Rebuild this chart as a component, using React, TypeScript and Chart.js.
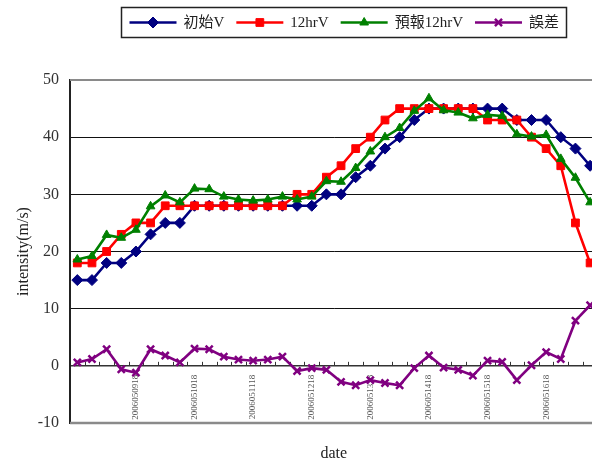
import { useEffect, useRef } from 'react';
import { Chart, registerables } from 'chart.js';
import { drawPoint } from 'chart.js/helpers';

Chart.register(...registerables);

// 6-hourly analysis times
const categories = [
  '2006050818', '2006050900', '2006050906', '2006050912',
  '2006050918', '2006051000', '2006051006', '2006051012',
  '2006051018', '2006051100', '2006051106', '2006051112',
  '2006051118', '2006051200', '2006051206', '2006051212',
  '2006051218', '2006051300', '2006051306', '2006051312',
  '2006051318', '2006051400', '2006051406', '2006051412',
  '2006051418', '2006051500', '2006051506', '2006051512',
  '2006051518', '2006051600', '2006051606', '2006051612',
  '2006051618', '2006051700', '2006051706', '2006051712',
];

// only these times get a label on the date axis
const labeledTimes = [
  '2006050918', '2006051018', '2006051118', '2006051218',
  '2006051318', '2006051418', '2006051518', '2006051618',
];

const initialV = [
  15, 15, 18, 18, 20, 23, 25, 25, 28, 28, 28, 28, 28, 28, 28, 28, 28, 30,
  30, 33, 35, 38, 40, 43, 45, 45, 45, 45, 45, 45, 43, 43, 43, 40, 38, 35,
];

const observed12hrV = [
  18, 18, 20, 23, 25, 25, 28, 28, 28, 28, 28, 28, 28, 28, 28, 30, 30, 33,
  35, 38, 40, 43, 45, 45, 45, 45, 45, 45, 43, 43, 43, 40, 38, 35, 25, 18,
];

const forecast12hrV = [
  18.6, 19.2, 22.9, 22.4, 23.8, 27.9, 29.8, 28.6, 31.0, 30.9, 29.6, 29.1,
  28.9, 29.1, 29.6, 29.1, 29.6, 32.3, 32.2, 34.6, 37.5, 40.0, 41.6, 44.6,
  46.8, 44.7, 44.3, 43.3, 43.9, 43.7, 40.5, 40.1, 40.4, 36.2, 32.9, 28.6,
];

const errorV = [
  0.6, 1.2, 2.9, -0.6, -1.2, 2.9, 1.8, 0.6, 3.0, 2.9, 1.6, 1.1,
  0.9, 1.1, 1.6, -0.9, -0.4, -0.7, -2.8, -3.4, -2.5, -3.0, -3.4, -0.4,
  1.8, -0.3, -0.7, -1.7, 0.9, 0.7, -2.5, 0.1, 2.4, 1.2, 7.9, 10.6,
];

const seriesNames = ['初始V', '12hrV', '預報12hrV', '誤差'];

const SERIF = '"Liberation Serif", "Times New Roman", serif';
const LEGEND_FONT = '15px "Liberation Serif", "Noto Sans CJK TC", serif';

// boxed legend: line with marker, then the series name
const boxLegend = {
  id: 'boxLegend',
  afterDraw(chart: any) {
    const ctx = chart.ctx as CanvasRenderingContext2D;
    ctx.save();
    ctx.font = LEGEND_FONT;
    const sets = chart.data.datasets as any[];
    const lineLen = 47;
    const textGap = 7;
    const itemGap = 12;
    const padX = 8;
    const widths = sets.map((ds) => ctx.measureText(ds.label).width);
    const total =
      padX * 2 +
      widths.reduce((s, w) => s + lineLen + textGap + w, 0) +
      itemGap * (sets.length - 1);
    const cx = 344;
    const top = 7;
    const h = 30;
    const left = Math.round(cx - total / 2) + 0.5;
    ctx.strokeStyle = '#222';
    ctx.lineWidth = 1.5;
    ctx.strokeRect(left, top + 0.5, Math.round(total), h);
    let x = left + padX;
    const y = top + h / 2 + 0.5;
    sets.forEach((ds, i) => {
      ctx.strokeStyle = ds.borderColor;
      ctx.fillStyle = ds.borderColor;
      ctx.lineWidth = ds.borderWidth;
      ctx.beginPath();
      ctx.moveTo(x, y);
      ctx.lineTo(x + lineLen, y);
      ctx.stroke();
      ctx.lineWidth = ds.pointBorderWidth;
      drawPoint(
        ctx,
        {
          pointStyle: ds.pointStyle,
          radius: ds.pointRadius,
          borderWidth: ds.pointBorderWidth,
          rotation: 0,
        } as any,
        x + lineLen / 2,
        y
      );
      ctx.fillStyle = '#222';
      ctx.textAlign = 'left';
      ctx.textBaseline = 'middle';
      ctx.fillText(ds.label, x + lineLen + textGap, y + 1);
      x += lineLen + textGap + widths[i] + itemGap;
    });
    ctx.restore();
  },
};

// plot frame, small marks on the zero line, and the date title
const frameAndTitle = {
  id: 'frameAndTitle',
  beforeDatasetsDraw(chart: any) {
    const { ctx, chartArea } = chart;
    const xs = chart.scales.x;
    const ys = chart.scales.y;
    ctx.save();
    ctx.strokeStyle = '#8a8a8a';
    ctx.lineWidth = 2;
    ctx.beginPath();
    ctx.moveTo(chartArea.left, chartArea.top);
    ctx.lineTo(chartArea.right, chartArea.top);
    ctx.stroke();
    ctx.lineWidth = 2.5;
    ctx.beginPath();
    ctx.moveTo(chartArea.left, chartArea.bottom);
    ctx.lineTo(chartArea.right, chartArea.bottom);
    ctx.stroke();
    const y0 = ys.getPixelForValue(0);
    const half = (xs.getPixelForValue(1) - xs.getPixelForValue(0)) / 2;
    ctx.strokeStyle = '#333';
    ctx.lineWidth = 1;
    ctx.beginPath();
    for (let i = 0; i < categories.length; i++) {
      const px = Math.round(xs.getPixelForValue(i) + half) + 0.5;
      ctx.moveTo(px, y0 - 4);
      ctx.lineTo(px, y0);
    }
    ctx.stroke();
    ctx.restore();
  },
  afterDraw(chart: any) {
    const { ctx, chartArea } = chart;
    ctx.save();
    ctx.font = '16px ' + SERIF;
    ctx.fillStyle = '#222';
    ctx.textAlign = 'center';
    ctx.textBaseline = 'middle';
    ctx.fillText('date', (chartArea.left + chartArea.right) / 2, chartArea.bottom + 31);
    ctx.restore();
  },
};

export default function App() {
  const canvasRef = useRef<HTMLCanvasElement | null>(null);

  useEffect(() => {
    const canvas = canvasRef.current;
    if (!canvas) return;
    Chart.defaults.font.family = SERIF;

    const base = (
      label: string,
      data: number[],
      color: string,
      pointStyle: string,
      pointRadius: number,
      pointBorderWidth: number,
      order: number
    ) => ({
      label,
      data,
      borderColor: color,
      backgroundColor: color,
      pointBackgroundColor: color,
      pointBorderColor: color,
      borderWidth: 2.6,
      pointStyle,
      pointRadius,
      pointHoverRadius: pointRadius,
      pointBorderWidth,
      tension: 0,
      order,
    });

    const chart = new Chart(canvas, {
      type: 'line',
      data: {
        labels: categories,
        datasets: [
          base(seriesNames[0], initialV, '#000080', 'rectRot', 5.5, 1, 4),
          base(seriesNames[1], observed12hrV, '#ff0000', 'rect', 5.5, 1, 3),
          base(seriesNames[2], forecast12hrV, '#008000', 'triangle', 5, 1, 2),
          base(seriesNames[3], errorV, '#800080', 'crossRot', 5, 2.5, 1),
        ] as any,
      },
      options: {
        animation: false,
        responsive: false,
        layout: { padding: { top: 80, right: 4, bottom: 41, left: 0 } },
        plugins: {
          legend: { display: false },
          tooltip: { enabled: false },
        },
        scales: {
          x: {
            type: 'category',
            position: { y: 0 } as any,
            offset: true,
            grid: { display: true, drawOnChartArea: false, drawTicks: false },
            border: { display: true, color: '#333', width: 1.5 },
            ticks: {
              autoSkip: false,
              maxRotation: 90,
              minRotation: 90,
              padding: 9,
              color: '#555',
              font: { size: 9, family: SERIF },
              callback: (_v: any, i: number) =>
                labeledTimes.includes(categories[i]) ? categories[i] : '',
            },
          },
          y: {
            min: -10,
            max: 50,
            afterFit: (scale: any) => {
              scale.width = 70;
            },
            grid: {
              drawTicks: false,
              lineWidth: 1,
              color: (c: any) =>
                c.tick && (c.tick.value === 50 || c.tick.value === -10)
                  ? 'rgba(0,0,0,0)'
                  : '#111',
            },
            border: { display: true, color: '#222', width: 2 },
            ticks: {
              stepSize: 10,
              padding: 11,
              color: '#333',
              font: { size: 16, family: SERIF },
            },
            title: {
              display: true,
              text: 'intensity(m/s)',
              color: '#222',
              font: { size: 16, family: SERIF },
              padding: { top: 14, bottom: 0 },
            },
          },
        },
      },
      plugins: [frameAndTitle, boxLegend],
    });

    return () => chart.destroy();
  }, []);

  return (
    <div
      style={{
        position: 'absolute',
        left: 0,
        top: 0,
        width: 592,
        height: 464,
        overflow: 'hidden',
        background: '#fff',
      }}
    >
      <canvas ref={canvasRef} width={610} height={464} style={{ display: 'block' }} />
    </div>
  );
}
